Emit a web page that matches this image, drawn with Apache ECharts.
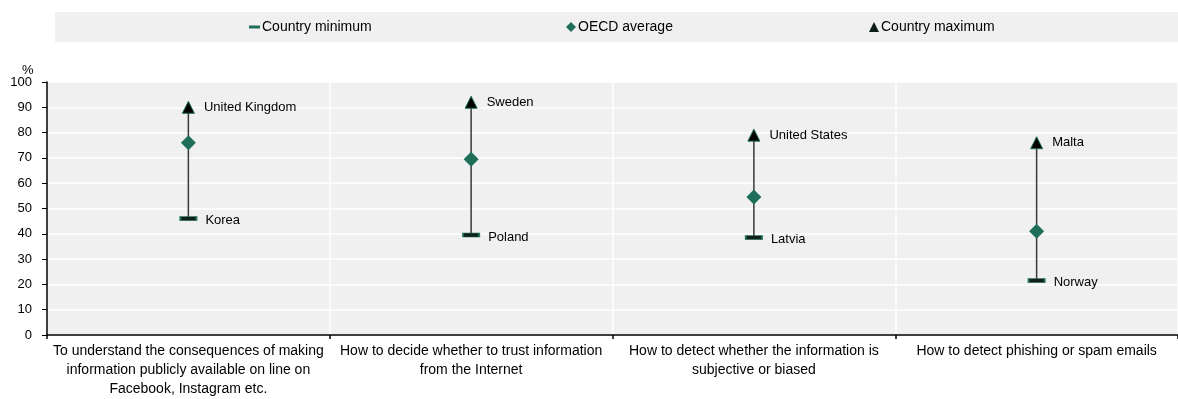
<!DOCTYPE html>
<html>
<head>
<meta charset="utf-8">
<script src="https://cdn.jsdelivr.net/npm/echarts@6/dist/echarts.min.js"></script>
<style>
html,body{margin:0;padding:0;background:#fff;}
#chart{width:1178px;height:399px;}
</style>
</head>
<body>
<div id="chart"></div>
<script>
var categories = [
  "To understand the consequences of making\ninformation publicly available on line on\nFacebook, Instagram etc.",
  "How to decide whether to trust information\nfrom the Internet",
  "How to detect whether the information is\nsubjective or biased",
  "How to detect phishing or spam emails"
];
var minValues = [46, 39.5, 38.5, 21.5];
var minCountries = ["Korea", "Poland", "Latvia", "Norway"];
var avgValues = [76, 69.5, 54.5, 41];
var maxValues = [90, 92, 79, 76];
var maxCountries = ["United Kingdom", "Sweden", "United States", "Malta"];
var yTicks = [0, 10, 20, 30, 40, 50, 60, 70, 80, 90, 100];

var FONT = "'Liberation Sans', Arial, sans-serif";
var GREEN = "#1f6e5a";

var chart = echarts.init(document.getElementById('chart'), null, {renderer: 'canvas'});

var rangeData = categories.map(function (c, i) { return [i, minValues[i], maxValues[i]]; });

var legendText = {fontSize: 14, color: '#000', fontFamily: FONT, padding: [0, 0, 0, -3]};

var option = {
  animation: false,
  textStyle: {fontFamily: FONT},
  graphic: [
    {type: 'rect', left: 55, top: 12, shape: {width: 1123, height: 30}, style: {fill: '#f0f0f0'}, z: -1},
    {type: 'text', left: 22, top: 64, style: {text: '%', font: '13px ' + FONT, fill: '#000'}}
  ],
  legend: [
    {data: [{name: 'Country minimum', icon: 'rect', itemStyle: {color: GREEN, borderWidth: 0}}],
     left: 249, top: 20, padding: 0, itemWidth: 11, itemHeight: 3, itemGap: 0, textStyle: legendText},
    {data: [{name: 'OECD average', icon: 'diamond', itemStyle: {color: GREEN, borderWidth: 0}}],
     left: 566, top: 20, padding: 0, itemWidth: 10, itemHeight: 10, textStyle: legendText},
    {data: [{name: 'Country maximum', icon: 'triangle', itemStyle: {color: '#0d1f18', borderWidth: 0}}],
     left: 869, top: 20, padding: 0, itemWidth: 10, itemHeight: 10, textStyle: legendText}
  ],
  grid: {
    left: 47, width: 1141, top: 82, bottom: 62,
    show: true, backgroundColor: '#f0f0f0', borderWidth: 0,
    containLabel: false
  },
  xAxis: {
    type: 'category',
    data: categories,
    boundaryGap: true,
    axisLine: {lineStyle: {color: '#000', width: 1.5}},
    axisTick: {show: true, length: 4, lineStyle: {color: '#000', width: 1.5}},
    axisLabel: {interval: 0, fontSize: 14, color: '#000', lineHeight: 19, margin: 7, fontFamily: FONT},
    splitLine: {show: true, lineStyle: {color: '#ffffff', width: 1.5}}
  },
  yAxis: {
    type: 'value',
    min: 0, max: 100, interval: 10,
    axisLine: {show: true, lineStyle: {color: '#000', width: 1.5}},
    axisTick: {show: true, length: 5, lineStyle: {color: '#000', width: 1}},
    axisLabel: {fontSize: 13, color: '#000', margin: 15, fontFamily: FONT,
      formatter: function (v) { return yTicks.indexOf(v) >= 0 ? String(v) : ''; }},
    splitLine: {show: true, lineStyle: {color: '#ffffff', width: 1.5}}
  },
  series: [
    {
      type: 'custom',
      name: 'range',
      data: rangeData,
      z: 1,
      renderItem: function (params, api) {
        var p1 = api.coord([api.value(0), api.value(1)]);
        var p2 = api.coord([api.value(0), api.value(2)]);
        return {type: 'line', shape: {x1: p1[0], y1: p1[1], x2: p2[0], y2: p2[1]},
          style: {stroke: '#3a3a3a', lineWidth: 1.5}};
      },
      encode: {x: 0, y: [1, 2]},
      silent: true
    },
    {
      type: 'scatter',
      name: 'Country minimum',
      data: minValues,
      symbol: 'rect',
      symbolSize: [16, 4],
      z: 3,
      itemStyle: {color: '#0f1f19', borderColor: GREEN, borderWidth: 1, opacity: 1},
      label: {show: true, position: 'right', distance: 8, fontSize: 13, color: '#000', fontFamily: FONT,
        offset: [0, 2],
        formatter: function (p) { return minCountries[p.dataIndex]; }}
    },
    {
      type: 'scatter',
      name: 'OECD average',
      data: avgValues,
      symbol: 'diamond',
      symbolSize: [15, 15],
      z: 3,
      itemStyle: {color: GREEN, opacity: 1}
    },
    {
      type: 'scatter',
      name: 'Country maximum',
      data: maxValues,
      symbol: 'triangle',
      symbolSize: [12, 12],
      z: 3,
      itemStyle: {color: '#000', borderColor: GREEN, borderWidth: 1, opacity: 1},
      label: {show: true, position: 'right', distance: 9, fontSize: 13, color: '#000', fontFamily: FONT,
        formatter: function (p) { return maxCountries[p.dataIndex]; }}
    }
  ]
};
chart.setOption(option);
</script>
</body>
</html>
